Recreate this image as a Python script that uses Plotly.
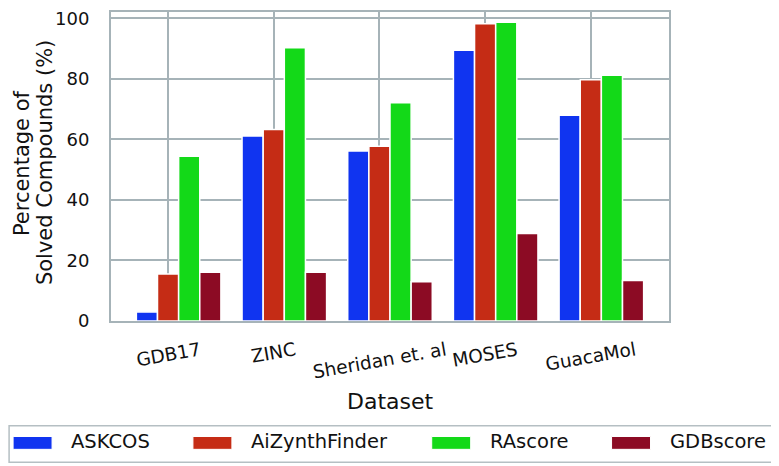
import plotly.graph_objects as go

datasets = ["GDB17", "ZINC", "Sheridan et. al", "MOSES", "GuacaMol"]
methods = ["ASKCOS", "AiZynthFinder", "RAscore", "GDBscore"]
askcos = [3.0, 61.1, 56.2, 89.5, 68.0]
aizynth = [15.5, 63.3, 57.7, 98.2, 79.7]
rascore = [54.4, 90.3, 72.1, 98.7, 81.2]
gdbscore = [16.1, 16.1, 13.0, 28.9, 13.4]
yticks = [0, 20, 40, 60, 80, 100]
ytitle = ["Percentage of", "Solved Compounds (%)"]

series = [askcos, aizynth, rascore, gdbscore]
colors = ["#1034f0", "#c52c15", "#13d918", "#8c0b24"]
offsets = [-0.2, 0.0, 0.2, 0.4]
grid = "#a6b3b8"
font = "DejaVu Sans"

# the page has an 8px body margin, so the figure starts 8px in
PAD = 8
W, H = 779 - PAD, 466 - PAD
L, R, T, B = 103, 109.5, 0, 145
pw, ph = W - L - R, H - T - B


def px(x):
    # page pixel -> paper x
    return (x - PAD - L) / pw


def py(y):
    # page pixel -> paper y
    return (H - B - (y - PAD)) / ph


fig = go.Figure()
for name, vals, col, off in zip(methods, series, colors, offsets):
    fig.add_trace(go.Bar(
        x=[i + off for i in range(len(datasets))], y=vals, name=name,
        width=0.2, marker=dict(color=col, line=dict(color="white", width=1.5)),
        showlegend=False,
    ))

# category labels, rotated like the original
for i, d in enumerate(datasets):
    fig.add_annotation(x=i, xref="x", y=py(336), yref="paper", text=d,
                       textangle=-10, showarrow=False, xanchor="center",
                       yanchor="top", font=dict(size=18.5, color="#111"))

fig.add_annotation(x=0.5, xref="paper", y=py(403), yref="paper", text="Dataset",
                   showarrow=False, xanchor="center", yanchor="middle",
                   font=dict(size=22, color="#111"))
for line, xp in zip(ytitle, [22, 45]):
    fig.add_annotation(x=px(xp), xref="paper", y=py(161), yref="paper",
                       text=line, textangle=-90,
                       showarrow=False, xanchor="center", yanchor="middle",
                       font=dict(size=21, color="#111"))

# legend box
fig.add_shape(type="rect", xref="paper", yref="paper", x0=px(9), x1=px(776),
              y0=py(464), y1=py(427), line=dict(color="#b5bfc3", width=1.5),
              fillcolor="white", layer="above")
sw_x = [13, 193, 432, 612]
for name, col, sx in zip(methods, colors, sw_x):
    fig.add_shape(type="rect", xref="paper", yref="paper", x0=px(sx), x1=px(sx + 39),
                  y0=py(451), y1=py(438), fillcolor=col, line=dict(color="white", width=1),
                  layer="above")
    fig.add_annotation(x=px(sx + 56), xref="paper", y=py(443.5), yref="paper", text=name,
                       showarrow=False, xanchor="left", yanchor="middle",
                       font=dict(size=19.5, color="#111"))

fig.update_layout(
    width=W, height=H, margin=dict(l=L, r=R, t=T, b=B),
    barmode="overlay", plot_bgcolor="white", paper_bgcolor="white",
    font=dict(family=font, color="#111"),
)
fig.update_xaxes(range=[-0.54, 4.74], tickvals=list(range(len(datasets))),
                 showticklabels=False, showgrid=True, gridcolor=grid, gridwidth=2,
                 showline=True, linecolor=grid, linewidth=2, mirror=True, zeroline=False)
fig.update_yaxes(range=[0, 102.1], tickvals=yticks, tickfont=dict(size=18),
                 ticklabelstandoff=16, ticklabeloverflow="allow",
                 showgrid=True, gridcolor=grid, gridwidth=2,
                 showline=True, linecolor=grid, linewidth=2, mirror=True, zeroline=False)

fig.write_html("out.html")
